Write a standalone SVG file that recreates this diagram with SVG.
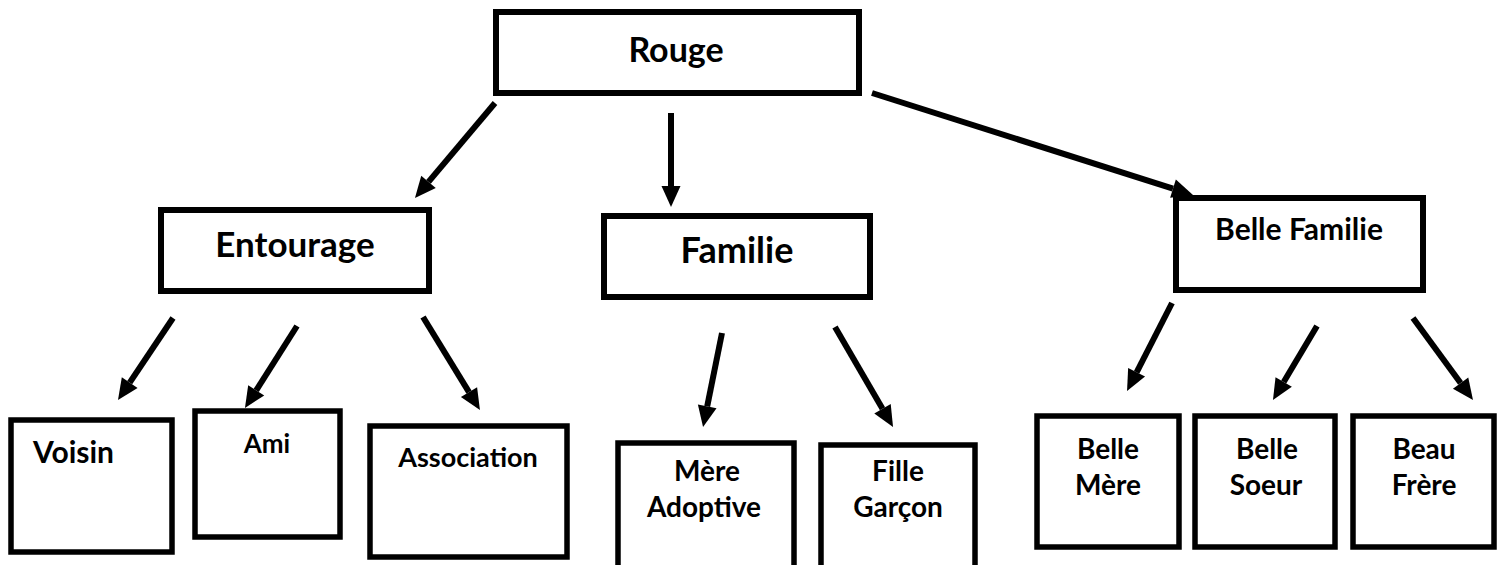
<svg xmlns="http://www.w3.org/2000/svg" width="1505" height="565" viewBox="0 0 1505 565">
<style>
.box{fill:#fff;stroke:#000;stroke-width:6}
.sm{stroke-width:5.5}
.lbl{font-family:Lato,"Liberation Sans",sans-serif;font-weight:bold;fill:#000}
.s{font-size:28px}
.c{text-anchor:middle}
.arr{stroke:#000;stroke-width:6;fill:none;marker-end:url(#ah)}
</style>
<defs>
<marker id="ah" markerUnits="userSpaceOnUse" markerWidth="22" markerHeight="20" refX="0" refY="9.5" orient="auto" overflow="visible">
<path d="M0,0 L21,9.5 L0,19 z" fill="#000"/>
</marker>
</defs>
<rect width="1505" height="565" fill="#fff"/>
<g id="connectors">
<line class="arr" x1="495" y1="103" x2="428.5" y2="181.9"/>
<line class="arr" x1="671" y1="113" x2="671" y2="186"/>
<line class="arr" x1="872" y1="93" x2="1173" y2="188.6"/>
<line class="arr" x1="173" y1="318" x2="129.7" y2="382.6"/>
<line class="arr" x1="297" y1="326" x2="256.2" y2="390.3"/>
<line class="arr" x1="423" y1="317" x2="469" y2="392.1"/>
<line class="arr" x1="722" y1="333" x2="707.2" y2="406.4"/>
<line class="arr" x1="835" y1="327" x2="882.5" y2="408.8"/>
<line class="arr" x1="1172" y1="303" x2="1136.6" y2="372.3"/>
<line class="arr" x1="1317" y1="326" x2="1283.7" y2="382"/>
<line class="arr" x1="1413" y1="318" x2="1460.6" y2="383.1"/>
</g>
<g id="rouge">
<rect class="box" x="496" y="12" width="363" height="81"/>
<text class="lbl c" x="676" y="62" font-size="34">Rouge</text>
</g>
<g id="entourage">
<rect class="box" x="161" y="210" width="268" height="81"/>
<text class="lbl c" x="295" y="257" font-size="35">Entourage</text>
</g>
<g id="familie">
<rect class="box" x="604" y="216" width="266" height="81"/>
<text class="lbl c" x="737" y="263" font-size="36">Familie</text>
</g>
<g id="belle-familie">
<rect class="box" x="1176" y="198" width="247" height="92"/>
<text class="lbl c" x="1299" y="240" font-size="30">Belle Familie</text>
</g>
<g id="voisin">
<rect class="box sm" x="11" y="420" width="161" height="132"/>
<text class="lbl" x="33" y="463" font-size="30">Voisin</text>
</g>
<g id="ami">
<rect class="box sm" x="195" y="411" width="145" height="126"/>
<text class="lbl c" x="267" y="453" font-size="26">Ami</text>
</g>
<g id="association">
<rect class="box sm" x="370" y="426" width="197" height="131"/>
<text class="lbl c" x="468" y="467" font-size="27">Association</text>
</g>
<g id="mere-adoptive">
<rect class="box sm" x="618" y="443" width="176" height="140"/>
<text class="lbl s c" x="707" y="481">Mère</text>
<text class="lbl s c" x="704" y="517">Adoptive</text>
</g>
<g id="fille-garcon">
<rect class="box sm" x="821" y="445" width="154" height="140"/>
<text class="lbl s c" x="898" y="481">Fille</text>
<text class="lbl s c" x="898" y="517">Garçon</text>
</g>
<g id="belle-mere">
<rect class="box sm" x="1037" y="416" width="142" height="131"/>
<text class="lbl s c" x="1108" y="459">Belle</text>
<text class="lbl s c" x="1108" y="495">Mère</text>
</g>
<g id="belle-soeur">
<rect class="box sm" x="1195" y="416" width="140" height="131"/>
<text class="lbl s c" x="1267" y="459">Belle</text>
<text class="lbl s c" x="1266" y="495">Soeur</text>
</g>
<g id="beau-frere">
<rect class="box sm" x="1353" y="416" width="141" height="131"/>
<text class="lbl s c" x="1424" y="459">Beau</text>
<text class="lbl s c" x="1424" y="495">Frère</text>
</g>
</svg>
